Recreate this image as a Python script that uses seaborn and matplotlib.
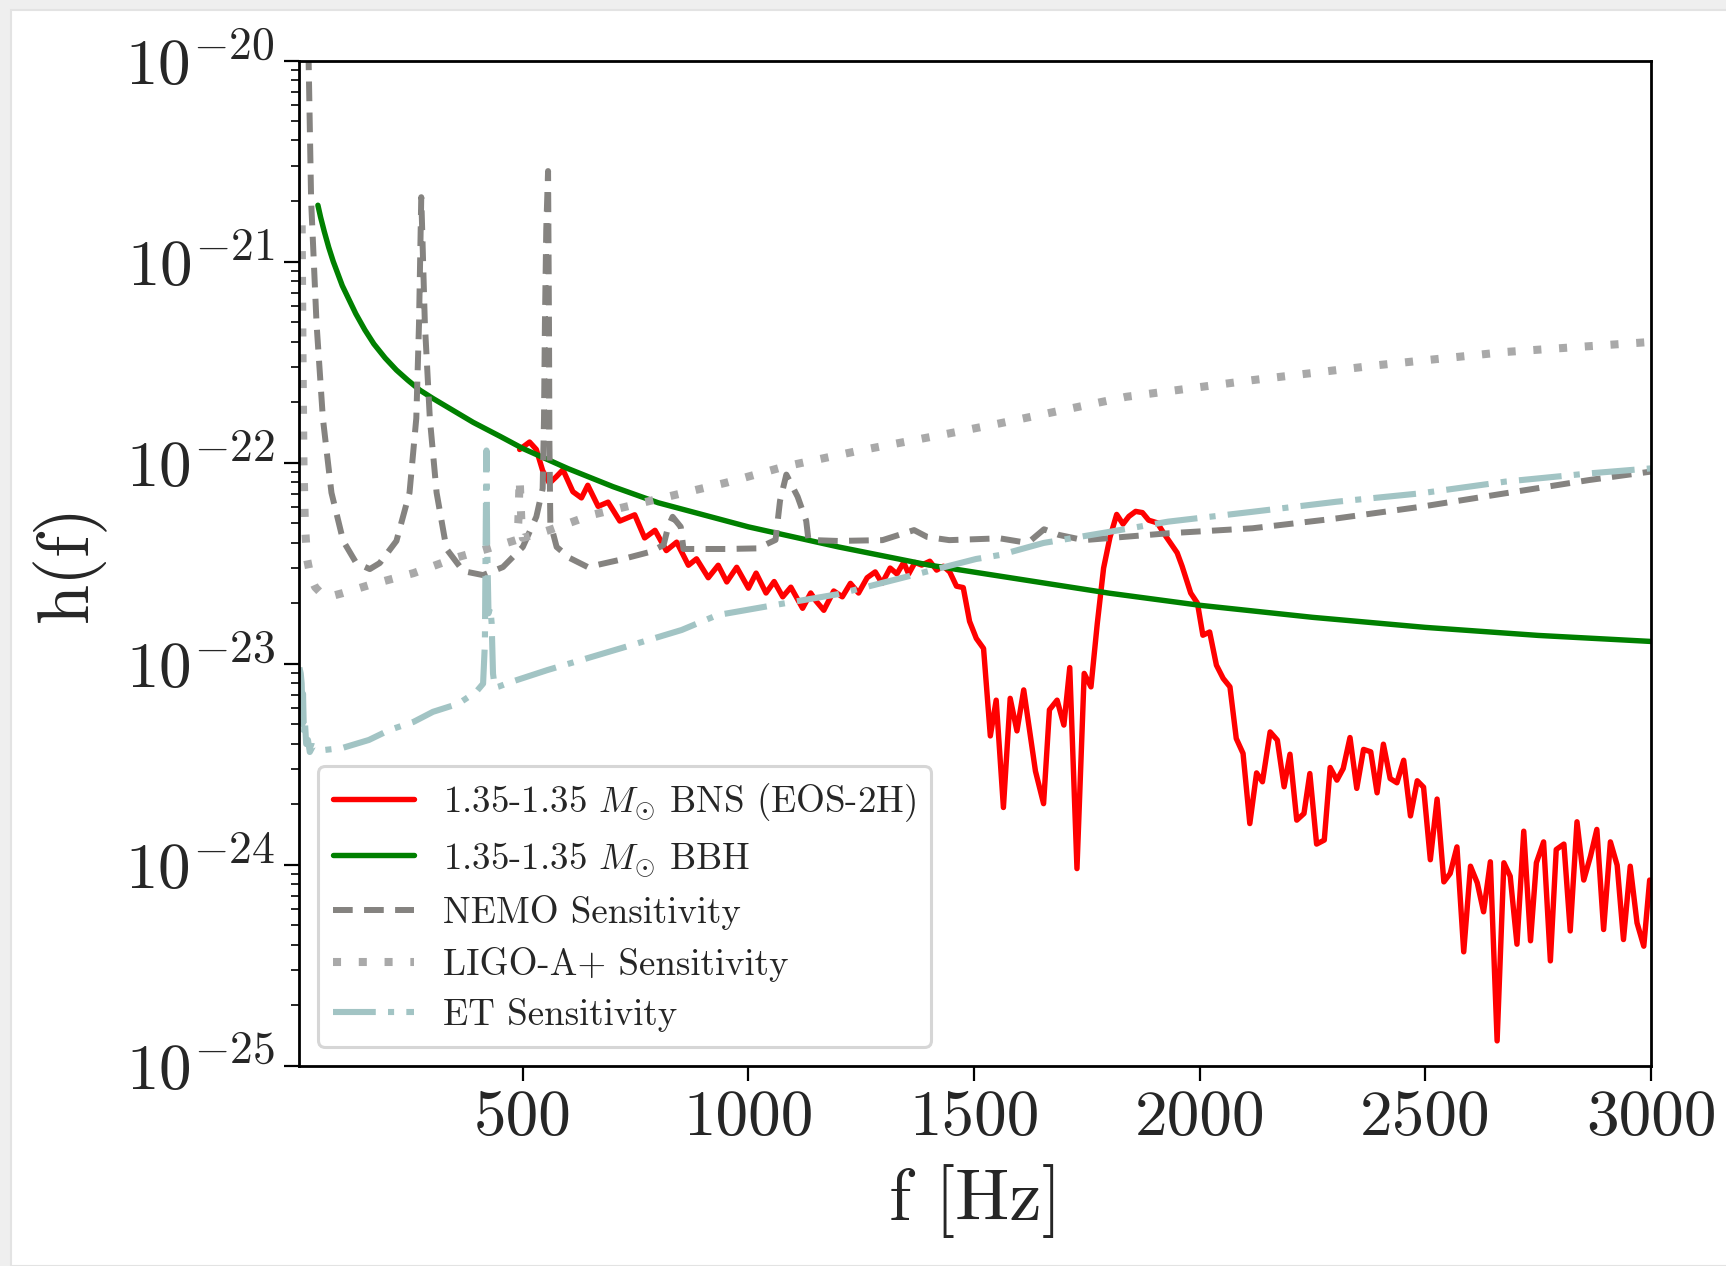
import numpy as np
import pandas as pd
import matplotlib
matplotlib.use("Agg")
import matplotlib.pyplot as plt
from matplotlib.patches import Rectangle
import seaborn as sns

# ---- strain spectra: frequency [Hz] and log10 h(f) ----
bns_f = [493, 515, 530, 544, 559, 574, 589, 611, 630, 644, 667, 689, 715, 748, 770, 793,
         818, 841, 867, 885, 911, 933, 952, 974, 1000, 1017, 1039, 1057, 1076, 1094, 1120,
         1138, 1149, 1167, 1189, 1208, 1226, 1244, 1263, 1281, 1296, 1314, 1329, 1344, 1355,
         1369, 1384, 1402, 1417, 1432, 1446, 1461, 1476, 1490, 1505, 1521, 1536, 1549, 1565,
         1580, 1595, 1610, 1636, 1654, 1667, 1684, 1699, 1712, 1728, 1744, 1759, 1773, 1787,
         1801, 1816, 1830, 1843, 1858, 1873, 1887, 1906, 1921, 1950, 1961, 1980, 1995, 2007,
         2022, 2037, 2052, 2067, 2081, 2096, 2111, 2126, 2139, 2156, 2172, 2187, 2200, 2215,
         2231, 2244, 2259, 2276, 2289, 2304, 2318, 2333, 2348, 2363, 2379, 2393, 2407, 2422,
         2437, 2452, 2467, 2482, 2496, 2511, 2526, 2541, 2555, 2570, 2585, 2600, 2615, 2629,
         2644, 2659, 2674, 2688, 2703, 2718, 2733, 2746, 2762, 2777, 2790, 2807, 2821, 2836,
         2851, 2866, 2880, 2895, 2910, 2925, 2939, 2954, 2969, 2984, 2997]
bns_log10h = [-21.935, -21.898, -21.935, -22.040, -22.103, -22.071, -22.036, -22.145, -22.176,
              -22.113, -22.218, -22.197, -22.291, -22.260, -22.375, -22.337, -22.438, -22.396,
              -22.511, -22.479, -22.573, -22.511, -22.594, -22.521, -22.625, -22.550, -22.649,
              -22.592, -22.668, -22.620, -22.725, -22.649, -22.687, -22.735, -22.639, -22.668,
              -22.601, -22.649, -22.573, -22.544, -22.601, -22.525, -22.554, -22.497, -22.554,
              -22.497, -22.510, -22.491, -22.535, -22.516, -22.544, -22.615, -22.622, -22.790,
              -22.875, -22.925, -23.360, -23.182, -23.716, -23.173, -23.335, -23.131, -23.535,
              -23.697, -23.230, -23.182, -23.306, -23.020, -24.020, -23.049, -23.116, -22.801,
              -22.525, -22.373, -22.258, -22.306, -22.268, -22.243, -22.249, -22.287, -22.300,
              -22.354, -22.449, -22.516, -22.649, -22.700, -22.859, -22.843, -23.008, -23.074,
              -23.116, -23.373, -23.447, -23.796, -23.544, -23.588, -23.340, -23.381, -23.613,
              -23.451, -23.779, -23.746, -23.547, -23.898, -23.878, -23.517, -23.580, -23.522,
              -23.368, -23.621, -23.427, -23.439, -23.643, -23.401, -23.572, -23.593, -23.481,
              -23.758, -23.583, -23.615, -23.976, -23.674, -24.086, -24.044, -23.912, -24.434,
              -24.008, -24.091, -24.235, -23.986, -24.877, -23.991, -24.058, -24.396, -23.834,
              -24.379, -23.991, -23.887, -24.479, -23.925, -23.898, -24.330, -23.787, -24.077,
              -23.958, -23.825, -24.323, -23.887, -24.003, -24.373, -24.008, -24.290, -24.406,
              -24.077]

bbh_f = [46, 52, 60, 70, 80, 90, 100, 115, 130, 150, 170, 195, 220, 245, 272, 300, 330, 360,
         390, 420, 450, 500, 550, 600, 650, 700, 800, 900, 1000, 1100, 1200, 1300, 1400, 1500,
         1600, 1800, 2000, 2250, 2500, 2750, 3000]
bbh_log10h = [-20.72, -20.78, -20.85, -20.93, -21.00, -21.06, -21.12, -21.19, -21.26, -21.34,
              -21.41, -21.48, -21.54, -21.59, -21.64, -21.68, -21.72, -21.76, -21.80, -21.835,
              -21.87, -21.93, -21.98, -22.03, -22.075, -22.12, -22.20, -22.26, -22.32, -22.37,
              -22.42, -22.465, -22.51, -22.545, -22.58, -22.65, -22.71, -22.77, -22.82, -22.86,
              -22.89]

nemo_f = [25, 31, 43, 57, 76, 102, 131, 161, 183, 220, 249, 264, 270, 275, 283, 294, 309, 331,
          368, 412, 456, 500, 530, 544, 547, 549, 552, 556, 558, 559, 561, 575, 604, 644, 713,
          783, 812, 822, 832, 850, 856, 951, 1020, 1060, 1070, 1084, 1109, 1128, 1133, 1198,
          1297, 1367, 1396, 1445, 1557, 1603, 1627, 1655, 1688, 1743, 1930, 2117, 2303, 2490,
          2677, 2863, 3000]
nemo_log10h = [-19.95, -20.70, -21.31, -21.78, -22.15, -22.39, -22.50, -22.53, -22.50, -22.39,
               -22.15, -21.78, -21.31, -20.68, -21.31, -21.78, -22.15, -22.43, -22.54, -22.56,
               -22.52, -22.42, -22.27, -22.13, -21.78, -21.31, -20.84, -20.55, -21.30, -21.90,
               -22.30, -22.42, -22.475, -22.52, -22.485, -22.444, -22.41, -22.32, -22.27,
               -22.32, -22.43, -22.43, -22.427, -22.385, -22.19, -22.06, -22.17, -22.29,
               -22.385, -22.39, -22.386, -22.336, -22.37, -22.386, -22.377, -22.394, -22.385,
               -22.332, -22.36, -22.386, -22.352, -22.327, -22.278, -22.22, -22.153, -22.087,
               -22.045]

ligo_f = [10, 12, 14, 17, 22, 30, 40, 55, 75, 100, 159, 258, 357, 420, 486, 490, 493, 497,
          500, 560, 654, 802, 951, 1080, 1247, 1445, 1557, 1837, 2117, 2397, 2677, 3000]
ligo_log10h = [-20.82, -21.50, -22.00, -22.30, -22.48, -22.57, -22.62, -22.655, -22.665,
               -22.65, -22.61, -22.55, -22.47, -22.43, -22.385, -22.30, -22.08, -22.30,
               -22.375, -22.335, -22.26, -22.18, -22.10, -22.02, -21.94, -21.855, -21.805,
               -21.673, -21.59, -21.515, -21.45, -21.40]

et_f = [5, 8, 10, 12, 13, 15, 17, 20, 24, 28, 35, 60, 100, 159, 205, 258, 301, 357, 397, 412,
        416, 418, 419.5, 421, 424, 428, 431, 434, 438, 446, 476, 555, 654, 753, 852, 931,
        1050, 1198, 1347, 1504, 1557, 1654, 1802, 1930, 2117, 2303, 2490, 2677, 2863, 3000]
et_log10h = [-23.02, -23.05, -23.10, -23.30, -23.15, -23.35, -23.28, -23.40, -23.38, -23.44,
             -23.41, -23.43, -23.42, -23.38, -23.33, -23.29, -23.24, -23.20, -23.14, -23.10,
             -22.90, -22.30, -21.94, -22.40, -22.75, -22.72, -22.80, -23.05, -23.12, -23.115,
             -23.09, -23.032, -22.966, -22.90, -22.833, -22.759, -22.712, -22.655, -22.57,
             -22.48, -22.46, -22.40, -22.344, -22.294, -22.245, -22.195, -22.153, -22.095,
             -22.054, -22.029]

x_ticks = [500, 1000, 1500, 2000, 2500, 3000]

labels = [r"1.35-1.35 $M_{\odot}$ BNS (EOS-2H)",
          r"1.35-1.35 $M_{\odot}$ BBH",
          "NEMO Sensitivity",
          "LIGO-A+ Sensitivity",
          "ET Sensitivity"]

# ---- style ----
sns.set_theme(style="ticks")
plt.rcParams.update({
    "font.family": ["cmr10", "DejaVu Serif"],
    "mathtext.fontset": "cm",
    "axes.formatter.use_mathtext": True,
    "axes.edgecolor": "black",
    "axes.linewidth": 2.0,
})

fig = plt.figure(figsize=(17.26, 12.66), dpi=100)
fig.patch.set_facecolor("#efefef")
fig.add_artist(Rectangle((11 / 1726, 0), 1, 1 - 10 / 1266, transform=fig.transFigure,
                         facecolor="white", edgecolor="#e3e3e3", linewidth=1.5, zorder=-5))
ax = fig.add_axes([0.17347, 0.15829, 0.78308, 0.79392])
ax.set_facecolor("white")


def draw(f, logh, label, color, lw, dashes=None):
    df = pd.DataFrame({"f": f, "h": np.power(10.0, logh)})
    sns.lineplot(data=df, x="f", y="h", ax=ax, color=color, linewidth=lw, label=label,
                 estimator=None, sort=False)
    line = ax.lines[-1]
    if dashes is not None:
        line.set_dashes(dashes)
        line.set_dash_capstyle("butt")
    return line


draw(bns_f, bns_log10h, labels[0], "#ff0000", 3.9)
draw(bbh_f, bbh_log10h, labels[1], "#008000", 3.9)
draw(nemo_f, nemo_log10h, labels[2], "#858380", 4.3, dashes=(3.3, 1.9))
draw(ligo_f, ligo_log10h, labels[3], "#a9a9a9", 5.8, dashes=(1.0, 2.2))
draw(et_f, et_log10h, labels[4], "#a2c4c4", 4.4, dashes=(7.0, 2.0, 1.0, 2.0))

ax.set_yscale("log")
ax.set_ylim(1e-25, 1e-20)
ax.set_xlim(5, 3000)
ax.set_xticks(x_ticks)
ax.set_xticklabels([str(t) for t in x_ticks])

ax.tick_params(axis="both", which="major", direction="out", length=10.5, width=1.6,
               labelsize=47, pad=7, color="black")
ax.tick_params(axis="y", which="minor", direction="out", length=6, width=1.2, color="black")
for s in ax.spines.values():
    s.set_linewidth(2.0)
    s.set_color("black")

ax.set_xlabel("f [Hz]", fontsize=52, labelpad=12)
ax.set_ylabel("h(f)", fontsize=52, labelpad=14)

leg = ax.legend(loc="lower left", fontsize=26.6, frameon=True, fancybox=True,
                framealpha=0.8, handlelength=2.2, borderaxespad=0.5, labelspacing=0.45)
leg.get_frame().set_edgecolor("#cccccc")
leg.get_frame().set_linewidth(2.2)

fig.savefig("out.png", dpi=100, facecolor=fig.get_facecolor())
